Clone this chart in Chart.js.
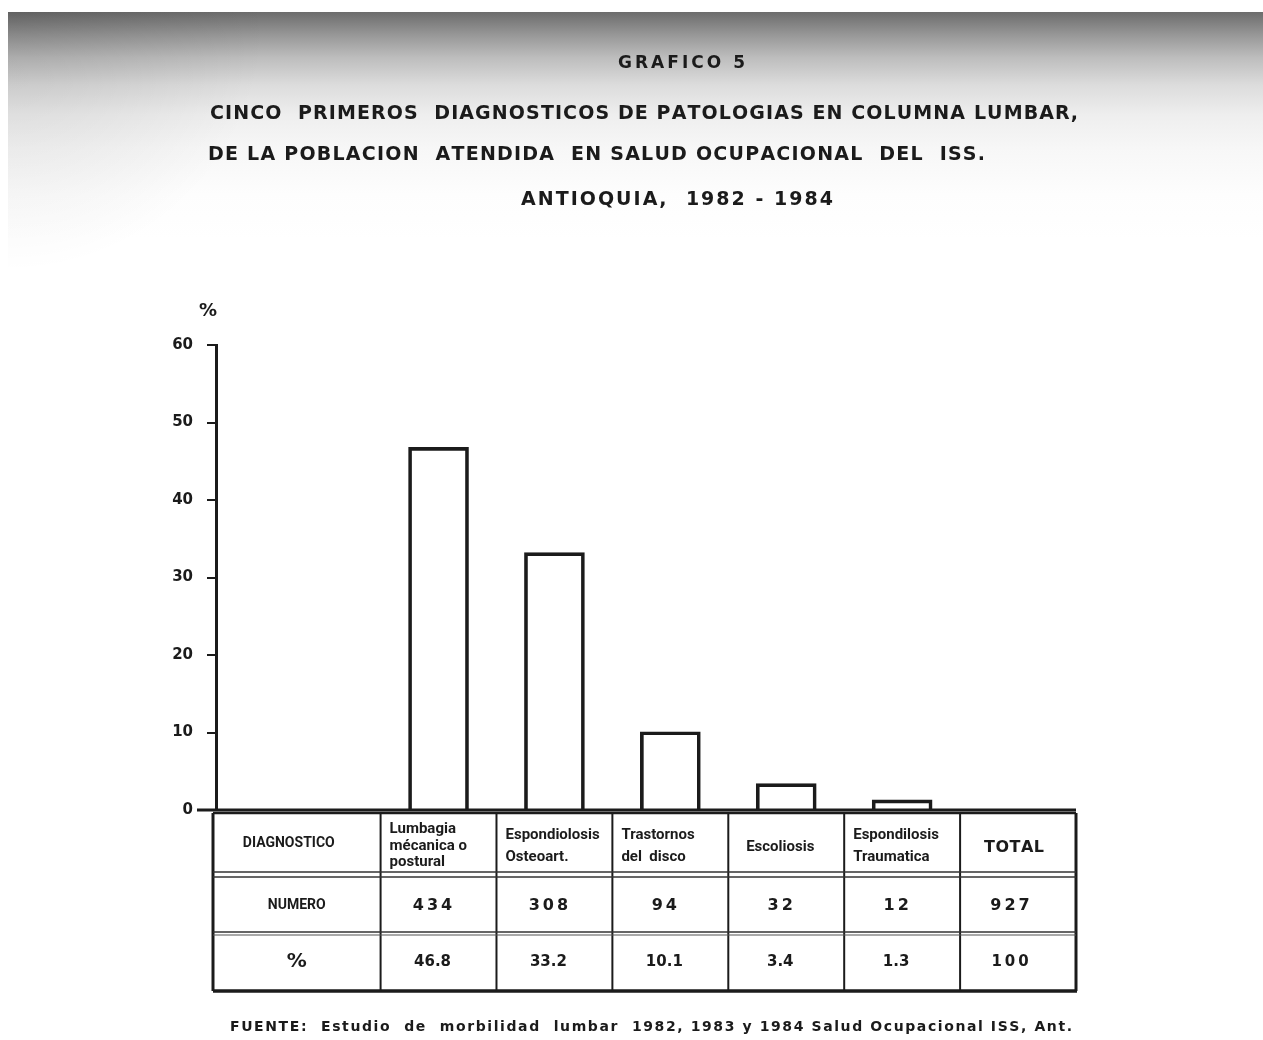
<!DOCTYPE html>
<html>
<head>
<meta charset="utf-8">
<script src="https://cdn.jsdelivr.net/npm/chart.js@4.4.0/dist/chart.umd.min.js"></script>
<style>
  html, body { margin: 0; padding: 0; background: #fff; }
  #wrap { position: relative; width: 1263px; height: 1040px; }
</style>
</head>
<body>
<div id="wrap"><canvas id="chart" width="1263" height="1040"></canvas></div>
<script>
// data, as printed on the scanned chart
const TITLE = 'GRAFICO 5';
const SUBTITLE_1 = 'CINCO  PRIMEROS  DIAGNOSTICOS DE PATOLOGIAS EN COLUMNA LUMBAR,';
const SUBTITLE_2 = 'DE LA POBLACION  ATENDIDA  EN SALUD OCUPACIONAL  DEL  ISS.';
const SUBTITLE_3 = 'ANTIOQUIA,  1982 - 1984';
const DIAGNOSTICOS = [
  ['Lumbagia', 'mécanica o', 'postural'],
  ['Espondiolosis', 'Osteoart.'],
  ['Trastornos', 'del  disco'],
  ['Escoliosis'],
  ['Espondilosis', 'Traumatica']
];
const NUMERO = [434, 308, 94, 32, 12];
const PORCENTAJE = [46.8, 33.2, 10.1, 3.4, 1.3];
const TOTAL_NUMERO = 927;
const TOTAL_PORCENTAJE = 100;
const Y_TICKS = [0, 10, 20, 30, 40, 50, 60];
const FUENTE = 'FUENTE:  Estudio  de  morbilidad  lumbar  1982, 1983 y 1984 Salud Ocupacional ISS, Ant.';

const INK = '#1b1b1b';

// spread a line of text between x1 and x2, like the stencil lettering
function draw_spaced(ctx, text, x1, x2, y) {
  const chars = Array.from(text);
  const widths = chars.map(c => ctx.measureText(c).width);
  const total = widths.reduce((a, b) => a + b, 0);
  const gap = chars.length > 1 ? (x2 - x1 - total) / (chars.length - 1) : 0;
  let x = x1;
  ctx.textAlign = 'left';
  chars.forEach((c, i) => {
    ctx.fillText(c, x, y);
    x += widths[i] + gap;
  });
}

function line(ctx, x1, y1, x2, y2, w, color) {
  ctx.beginPath();
  ctx.lineWidth = w;
  ctx.strokeStyle = color || INK;
  ctx.moveTo(x1, y1);
  ctx.lineTo(x2, y2);
  ctx.stroke();
}

const paper = {
  id: 'paper',
  beforeDraw(chart) {
    const ctx = chart.ctx;
    ctx.save();
    ctx.fillStyle = '#fff';
    ctx.fillRect(0, 0, chart.width, chart.height);
    // grey shadow of the scanner lid along the top
    let g = ctx.createLinearGradient(0, 12, 0, 240);
    g.addColorStop(0, '#6c6c6c');
    g.addColorStop(0.1, '#979797');
    g.addColorStop(0.2, '#bdbdbd');
    g.addColorStop(0.32, '#dcdcdc');
    g.addColorStop(0.45, '#eeeeee');
    g.addColorStop(0.6, '#f7f7f7');
    g.addColorStop(0.8, '#fdfdfd');
    g.addColorStop(1, '#ffffff');
    ctx.fillStyle = g;
    ctx.fillRect(8, 12, chart.width - 8, 228);
    // darker towards the left border
    let r = ctx.createRadialGradient(8, 12, 10, 8, 12, 260);
    r.addColorStop(0, 'rgba(0,0,0,0.10)');
    r.addColorStop(1, 'rgba(0,0,0,0)');
    ctx.fillStyle = r;
    ctx.fillRect(8, 12, 270, 260);
    ctx.restore();
  },
  afterDraw(chart) {
    const ctx = chart.ctx;
    ctx.save();
    ctx.fillStyle = INK;
    ctx.textBaseline = 'middle';
    ctx.font = 'bold 17px "DejaVu Sans"';
    draw_spaced(ctx, TITLE, 618, 745, 64);
    ctx.font = 'bold 19px "DejaVu Sans"';
    draw_spaced(ctx, SUBTITLE_1, 210, 1078, 114);
    draw_spaced(ctx, SUBTITLE_2, 208, 985, 155);
    draw_spaced(ctx, SUBTITLE_3, 521, 833, 200);
    ctx.font = 'bold 18px "DejaVu Sans"';
    ctx.textAlign = 'left';
    ctx.fillText('%', 199, 311);
    ctx.font = 'bold 14px "DejaVu Sans"';
    draw_spaced(ctx, FUENTE, 230, 1072, 1027);
    ctx.restore();
  }
};

const table = {
  id: 'table',
  afterDraw(chart) {
    const ctx = chart.ctx;
    const xs = chart.scales.x;
    const ys = chart.scales.y;
    const area = chart.chartArea;
    const y0 = ys.getPixelForValue(0);
    const right = xs.getPixelForValue(PORCENTAJE.length + 0.5);
    const edges = [area.left - 3];
    for (let i = 0; i <= PORCENTAJE.length; i++) {
      edges.push(xs.getPixelForValue(i - 0.5));
    }
    edges.push(right);

    const top = y0 + 3;
    const r1 = top + 61;
    const r2 = top + 120;
    const bottom = top + 178;

    ctx.save();
    // baseline, reaching past the axis like the drawn zero tick
    line(ctx, 197, y0, right, y0, 3);
    // frame
    line(ctx, edges[0], top, right, top, 2.5);
    line(ctx, edges[0], bottom, right + 1, bottom, 3.5);
    line(ctx, edges[0], top, edges[0], bottom, 3);
    line(ctx, right, top, right, bottom, 3);
    for (let i = 1; i < edges.length - 1; i++) {
      line(ctx, edges[i], top, edges[i], bottom, 2);
    }
    line(ctx, edges[0], r1 - 2, right, r1 - 2, 1.6, '#333');
    line(ctx, edges[0], r1 + 3, right, r1 + 3, 1.6, '#333');
    line(ctx, edges[0], r2 - 1, right, r2 - 1, 1.6, '#333');
    line(ctx, edges[0], r2 + 2, right, r2 + 2, 1.2, '#555');

    ctx.fillStyle = INK;
    ctx.textBaseline = 'middle';
    const center = i => (edges[i] + edges[i + 1]) / 2;

    ctx.font = 'bold 14px Roboto';
    ctx.textAlign = 'center';
    ctx.fillText('DIAGNOSTICO', center(0) - 8, top + 30);
    ctx.fillText('NUMERO', center(0), (r1 + r2) / 2 + 2);
    ctx.font = 'bold 20px "DejaVu Sans"';
    ctx.fillText('%', center(0), (r2 + bottom) / 2);

    ctx.font = 'bold 15px Roboto';
    DIAGNOSTICOS.forEach((lines, i) => {
      const col = i + 1;
      if (lines.length === 1) {
        ctx.textAlign = 'center';
        ctx.fillText(lines[0], center(col) - 6, top + 34, edges[col + 1] - edges[col] - 8);
      } else {
        ctx.textAlign = 'left';
        const step = lines.length === 3 ? 16.5 : 22;
        const start = top + 33 - step * (lines.length - 1) / 2;
        lines.forEach((t, k) => {
          ctx.fillText(t, edges[col] + 9, start + k * step, edges[col + 1] - edges[col] - 12);
        });
      }
    });
    ctx.textAlign = 'left';
    ctx.font = 'bold 16px "DejaVu Sans"';
    draw_spaced(ctx, 'TOTAL', center(6) - 34, center(6) + 26, top + 35);

    ctx.font = 'bold 16px "DejaVu Sans"';
    const spaced_center = (t, cx, y) => {
      const w = ctx.measureText(t).width + (t.length - 1) * 3;
      draw_spaced(ctx, t, cx - w / 2, cx + w / 2, y);
    };
    NUMERO.forEach((v, i) => spaced_center(String(v), center(i + 1) - 6, (r1 + r2) / 2 + 2));
    spaced_center(String(TOTAL_NUMERO), center(6) - 8, (r1 + r2) / 2 + 2);
    ctx.font = 'bold 15px "DejaVu Sans"';
    ctx.textAlign = 'center';
    PORCENTAJE.forEach((v, i) => ctx.fillText(String(v), center(i + 1) - 6, (r2 + bottom) / 2));
    spaced_center(String(TOTAL_PORCENTAJE), center(6) - 8, (r2 + bottom) / 2);
    ctx.restore();
  }
};

new Chart(document.getElementById('chart'), {
  type: 'bar',
  data: {
    datasets: [{
      data: PORCENTAJE.map((v, i) => ({ x: i, y: v })),
      backgroundColor: 'rgba(255,255,255,0)',
      borderColor: INK,
      borderWidth: 3,
      barThickness: 60
    }]
  },
  options: {
    responsive: false,
    animation: false,
    devicePixelRatio: 1,
    layout: { padding: { left: 156, right: 187, top: 345, bottom: 230 } },
    plugins: { legend: { display: false }, tooltip: { enabled: false } },
    scales: {
      x: { type: 'linear', display: false, offset: false, min: -1.92, max: 5.5 },
      y: {
        min: 0,
        max: 60,
        afterFit: s => { s.width = 60; },
        afterBuildTicks: s => { s.ticks = Y_TICKS.map(v => ({ value: v })); },
        ticks: { color: INK, padding: 14, font: { family: 'DejaVu Sans', size: 15, weight: 'bold' } },
        grid: { drawOnChartArea: false, color: INK, lineWidth: 2, tickLength: 9 },
        border: { color: INK, width: 3 }
      }
    }
  },
  plugins: [paper, table]
});
</script>
</body>
</html>
